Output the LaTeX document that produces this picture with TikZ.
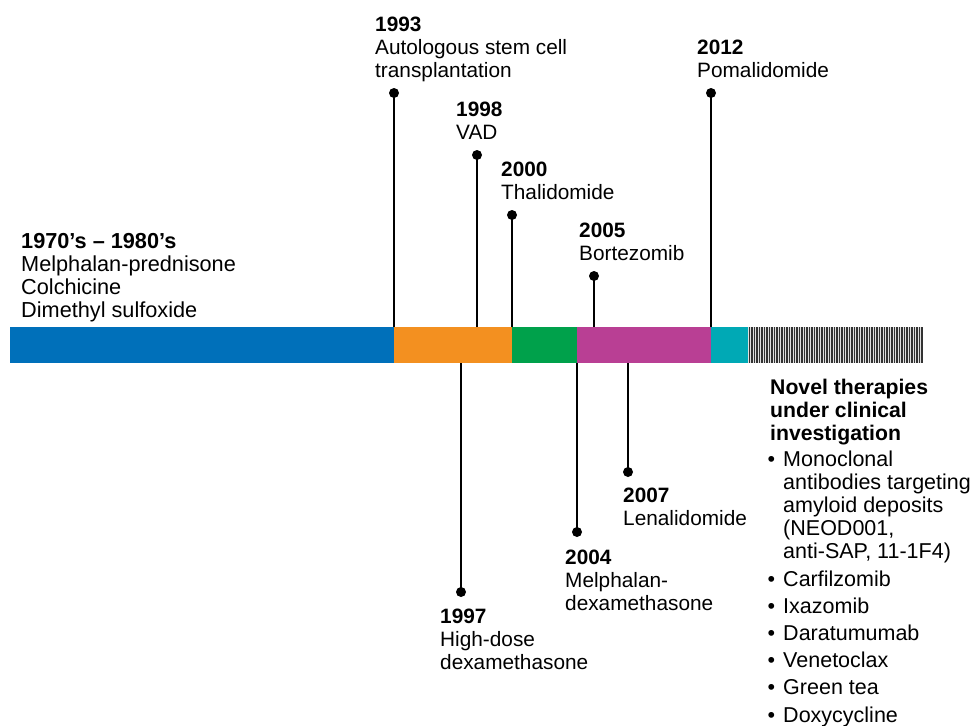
\documentclass[tikz,border=0pt]{standalone}
\usepackage{fontspec}
\setmainfont{Liberation Sans}
\definecolor{cblue}{RGB}{0,112,186}
\definecolor{corange}{RGB}{243,144,32}
\definecolor{cgreen}{RGB}{0,161,75}
\definecolor{cmagenta}{RGB}{185,63,148}
\definecolor{ccyan}{RGB}{0,169,181}
\begin{document}
\begin{tikzpicture}[x=1pt,y=-1pt,
  lab/.style={anchor=north west,inner sep=0pt,align=left,font=\fontsize{20.8}{23}\selectfont},
  pin/.style={line width=2.2pt,black},
  dotnode/.style={circle,fill=black,inner sep=0pt,minimum size=10pt},
  seg/.style={anchor=north west,inner sep=0pt,minimum height=36pt}]
\useasboundingbox (0,0) rectangle (973,725);

% bar segments
\node[seg,fill=cblue,minimum width=384pt] (s1) at (10,327) {};
\node[seg,fill=corange,minimum width=118pt] (s2) at (394,327) {};
\node[seg,fill=cgreen,minimum width=65pt] (s3) at (512,327) {};
\node[seg,fill=cmagenta,minimum width=134pt] (s4) at (577,327) {};
\node[seg,fill=ccyan,minimum width=37pt] (s5) at (711,327) {};
\node[seg,fill=black!12,minimum width=175pt] (s6) at (748,327) {};
\foreach \i in {0,...,69}
  \draw[line width=1.2pt,black!80] (749.5+2.5*\i,327) -- ++(0,36);

% anchor points on the bar
\coordinate (b93) at (394,327);
\coordinate (b98) at (477,327);
\coordinate (b00) at (512,327);
\coordinate (b05) at (594,327);
\coordinate (b12) at (711,327);
\coordinate (b97) at (461,363);
\coordinate (b04) at (577,363);
\coordinate (b07) at (628,363);

% dots
\node[dotnode] (d93) at (394,93) {};
\node[dotnode] (d98) at (477,155) {};
\node[dotnode] (d00) at (512,215) {};
\node[dotnode] (d05) at (594,276) {};
\node[dotnode] (d12) at (711,93) {};
\node[dotnode] (d97) at (461,592) {};
\node[dotnode] (d04) at (577,532) {};
\node[dotnode] (d07) at (628,472) {};

\foreach \y in {93,98,00,05,12,97,04,07}
  \draw[pin] (b\y) -- (d\y.center);

% labels
\node[lab,font=\fontsize{21.7}{23}\selectfont] (l70) at (21,233.2) {\textbf{1970’s – 1980’s}\\Melphalan-prednisone\\Colchicine\\Dimethyl sulfoxide};
\node[lab] (l93) at (375,16.5) {\textbf{1993}\\Autologous stem cell\\transplantation};
\node[lab] (l98) at (456,101.5) {\textbf{1998}\\VAD};
\node[lab] (l00) at (501,161.5) {\textbf{2000}\\Thalidomide};
\node[lab] (l05) at (579,222.5) {\textbf{2005}\\Bortezomib};
\node[lab] (l12) at (697,39.5) {\textbf{2012}\\Pomalidomide};
\node[lab] (l97) at (440,608.5) {\textbf{1997}\\High-dose\\dexamethasone};
\node[lab] (l04) at (565,549.5) {\textbf{2004}\\Melphalan-\\dexamethasone};
\node[lab] (l07) at (623,487.5) {\textbf{2007}\\Lenalidomide};

\node[lab,font=\fontsize{21.2}{23}\selectfont\bfseries] (nov) at (770,379.3) {Novel therapies\\under clinical\\investigation};
\node[lab,font=\fontsize{21.5}{23}\selectfont] (list) at (767.5,450.6) {\begin{tabular}{@{}l@{\hspace{8pt}}l@{}}
•&Monoclonal\\
 &antibodies targeting\\
 &amyloid deposits\\
 &(NEOD001,\\
 &anti-SAP, 11-1F4)\\[4.2pt]
•&Carfilzomib\\[4.2pt]
•&Ixazomib\\[4.2pt]
•&Daratumumab\\[4.2pt]
•&Venetoclax\\[4.2pt]
•&Green tea\\[4.2pt]
•&Doxycycline
\end{tabular}};
\end{tikzpicture}
\end{document}
